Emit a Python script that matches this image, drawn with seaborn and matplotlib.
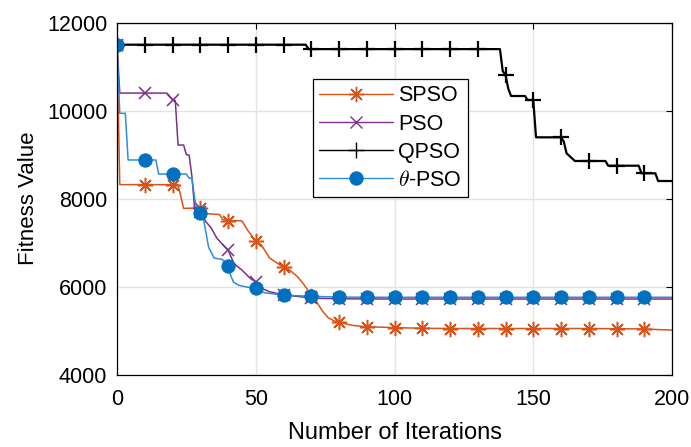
import numpy as np
import pandas as pd
import matplotlib
matplotlib.use("Agg")
import matplotlib.pyplot as plt
import seaborn as sns
from matplotlib.lines import Line2D

# ---------------- data ----------------
spso_iter = [0, 1, 10, 20, 22, 24, 30, 31, 32, 37, 38, 40, 45, 47, 50, 52, 55, 60, 62, 65, 67, 69,
             70, 72, 74, 76, 78, 80, 85, 90, 100, 110, 120, 130, 140, 150, 160, 170, 180, 190, 195, 200]
spso_fit = [11500, 8320, 8320, 8320, 8320, 7780, 7790, 7780, 7660, 7640, 7530, 7500, 7500, 7290, 7030,
            6950, 6650, 6440, 6390, 6230, 6080, 5900, 5800, 5650, 5450, 5300, 5230, 5190, 5120, 5090,
            5070, 5055, 5050, 5050, 5050, 5050, 5050, 5050, 5045, 5040, 5025, 5015]

pso_iter = [0, 1, 10, 18, 20, 21, 22, 24, 25, 26, 27, 28, 30, 32, 34, 36, 40, 42, 43, 45, 48, 50, 52,
            55, 60, 65, 70, 80, 90, 100, 110, 120, 130, 140, 150, 160, 170, 180, 190, 200]
pso_fit = [11500, 10400, 10400, 10400, 10250, 10230, 9220, 9220, 9000, 8990, 8500, 7750, 7700, 7480,
           7330, 7100, 6834, 6550, 6480, 6380, 6190, 6110, 5964, 5886, 5811, 5780, 5740, 5725, 5722,
           5720, 5720, 5720, 5720, 5720, 5720, 5720, 5720, 5720, 5720, 5720]

qpso_iter = [0, 10, 20, 30, 40, 50, 60, 68, 69, 70, 80, 90, 100, 110, 120, 130, 138, 139, 140, 141,
             142, 147, 148, 150, 151, 160, 161, 162, 165, 170, 176, 177, 180, 188, 189, 190, 194, 195, 200]
qpso_fit = [11500, 11500, 11500, 11500, 11500, 11500, 11500, 11500, 11400, 11400, 11400, 11400, 11400,
            11400, 11400, 11400, 11400, 10900, 10811, 10500, 10334, 10334, 10243, 10243, 9395, 9395,
            9300, 9032, 8857, 8857, 8857, 8750, 8750, 8750, 8577, 8577, 8577, 8402, 8402]

tpso_iter = [0, 1, 3, 4, 10, 14, 15, 20, 25, 26, 27, 28, 29, 30, 31, 32, 33, 35, 38, 40, 41, 42, 44,
             47, 50, 53, 60, 70, 80, 90, 100, 110, 120, 130, 140, 150, 160, 170, 180, 190, 200]
tpso_fit = [11500, 9940, 9940, 8880, 8880, 8880, 8560, 8560, 8560, 8464, 8464, 8000, 7700, 7668, 7600,
            7250, 6900, 6650, 6620, 6470, 6250, 6100, 6030, 5990, 5964, 5864, 5811, 5780, 5765, 5760,
            5760, 5760, 5760, 5760, 5760, 5760, 5760, 5760, 5760, 5760, 5760]

names = ["SPSO", "PSO", "QPSO", r"$\theta$-PSO"]
x_ticks = [0, 50, 100, 150, 200]
y_ticks = [4000, 6000, 8000, 10000, 12000]

# ---------------- styling ----------------
sns.set_theme(style="whitegrid")
plt.rcParams["font.family"] = ["Liberation Sans", "DejaVu Sans"]
plt.rcParams["mathtext.fontset"] = "cm"
plt.rcParams["text.color"] = "black"
plt.rcParams["axes.labelcolor"] = "black"

fig = plt.figure(figsize=(6.91, 4.47), dpi=100)
ax = fig.add_axes([117 / 691, 1 - 374.7 / 447, 555 / 691, 352 / 447])

styles = [
    dict(color="#D95319", marker=(8, 2, 0), markersize=11, markeredgewidth=1.1,
         markeredgecolor="#D95319", linewidth=1.1),
    dict(color="#7E2F8E", marker="x", markersize=8, markeredgewidth=1.1,
         markeredgecolor="#7E2F8E", linewidth=1.1),
    dict(color="black", marker="+", markersize=11, markeredgewidth=1.6,
         markeredgecolor="black", linewidth=1.6),
    dict(color="#2E8ED6", marker="o", markersize=9.5, markeredgewidth=0.8,
         markeredgecolor="#0070C0", markerfacecolor="#0070C0", linewidth=1.1),
]
series = [(spso_iter, spso_fit), (pso_iter, pso_fit), (qpso_iter, qpso_fit), (tpso_iter, tpso_fit)]

for name, (xs, ys), st in zip(names, series, styles):
    df = pd.DataFrame({"Iteration": xs, "Fitness": ys})
    mk = [i for i, v in enumerate(xs) if v % 10 == 0 and v < 200]
    sns.lineplot(data=df, x="Iteration", y="Fitness", ax=ax, estimator=None, sort=False,
                 markevery=mk, label=name, **st)

ax.set_xlim(0, 200)
ax.set_ylim(4000, 12000)
ax.set_xticks(x_ticks)
ax.set_yticks(y_ticks)
ax.grid(True, color="#e3e3e3", linewidth=1.0)
for sp in ax.spines.values():
    sp.set_color("black")
    sp.set_linewidth(0.9)
ax.tick_params(direction="in", top=True, right=True, length=4, width=0.8, color="black",
               labelsize=15.5, labelcolor="black")
ax.tick_params(axis="x", pad=10)
ax.tick_params(axis="y", pad=7)
ax.set_xlabel("Number of Iterations", fontsize=17, labelpad=9)
ax.set_ylabel("Fitness Value", fontsize=16, labelpad=6)

# legend with thin proxy lines like the reference legend
proxies = []
for st in styles:
    p = dict(st)
    p["linewidth"] = 1.0
    p["markeredgewidth"] = min(p["markeredgewidth"], 1.0)
    proxies.append(Line2D([], [], **p))
leg = ax.legend(proxies, names, loc="upper left", bbox_to_anchor=(0.353, 0.840),
                borderaxespad=0, fontsize=15.5, handlelength=3.4, handletextpad=0.25,
                labelspacing=0.33, borderpad=0.3, fancybox=False, framealpha=1,
                edgecolor="black")
leg.get_frame().set_linewidth(0.9)

fig.savefig("out.png", dpi=100)
